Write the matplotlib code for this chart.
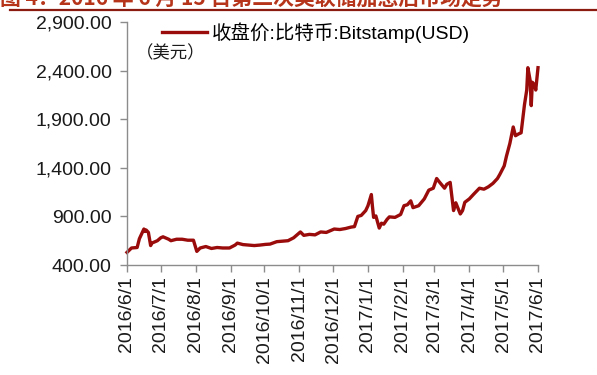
import numpy as np
import pandas as pd
import matplotlib
matplotlib.use('Agg')
import matplotlib.pyplot as plt
import matplotlib.dates as mdates
from matplotlib.ticker import FuncFormatter

plt.rcParams['font.family'] = ['Liberation Sans', 'Noto Sans CJK SC', 'DejaVu Sans']
plt.rcParams['axes.unicode_minus'] = False

# 收盘价:比特币:Bitstamp(USD)，按图读取的近似值
dates = [
    '2016-06-01', '2016-06-05', '2016-06-10', '2016-06-12', '2016-06-16', '2016-06-17',
    '2016-06-18', '2016-06-20', '2016-06-22', '2016-06-23', '2016-06-26', '2016-06-28',
    '2016-07-01', '2016-07-03', '2016-07-08', '2016-07-10', '2016-07-15', '2016-07-20',
    '2016-07-25', '2016-07-30', '2016-08-02', '2016-08-05', '2016-08-10', '2016-08-15',
    '2016-08-20', '2016-08-25', '2016-08-31', '2016-09-05', '2016-09-07', '2016-09-12',
    '2016-09-17', '2016-09-22', '2016-09-27', '2016-10-02', '2016-10-06', '2016-10-12',
    '2016-10-17', '2016-10-22', '2016-10-27', '2016-11-02', '2016-11-05', '2016-11-10',
    '2016-11-15', '2016-11-20', '2016-11-25', '2016-12-02', '2016-12-07', '2016-12-12',
    '2016-12-17', '2016-12-20', '2016-12-23', '2016-12-26', '2016-12-30', '2017-01-01',
    '2017-01-04', '2017-01-05', '2017-01-06', '2017-01-08', '2017-01-11', '2017-01-13',
    '2017-01-15', '2017-01-18', '2017-01-20', '2017-01-25', '2017-01-30', '2017-02-02',
    '2017-02-05', '2017-02-08', '2017-02-10', '2017-02-15', '2017-02-20', '2017-02-24',
    '2017-02-28', '2017-03-03', '2017-03-05', '2017-03-10', '2017-03-12', '2017-03-15',
    '2017-03-18', '2017-03-20', '2017-03-24', '2017-03-26', '2017-03-28', '2017-04-01',
    '2017-04-05', '2017-04-10', '2017-04-14', '2017-04-18', '2017-04-22', '2017-04-26',
    '2017-04-28', '2017-05-02', '2017-05-04', '2017-05-07', '2017-05-10', '2017-05-12',
    '2017-05-15', '2017-05-17', '2017-05-20', '2017-05-22', '2017-05-23', '2017-05-25',
    '2017-05-26', '2017-05-27', '2017-05-29', '2017-05-30', '2017-06-01',
]
close = [
    530, 575, 580, 670, 770, 745,
    760, 735, 600, 625, 640, 650,
    680, 690, 665, 650, 665, 665,
    655, 655, 540, 575, 590, 570,
    580, 575, 575, 605, 625, 610,
    605, 600, 605, 612, 615, 640,
    645, 650, 680, 740, 705, 715,
    710, 740, 735, 770, 765, 775,
    790, 795, 900, 910, 960, 1010,
    1125, 1000, 890, 905, 780, 830,
    820, 870, 895, 890, 920, 1010,
    1020, 1060, 990, 1010, 1080, 1170,
    1190, 1290, 1260, 1190, 1230, 1250,
    960, 1040, 925, 960, 1045, 1080,
    1130, 1190, 1180, 1205, 1240, 1290,
    1330, 1420, 1520, 1650, 1820, 1730,
    1750, 1760, 2050, 2200, 2430, 2300,
    2040, 2280, 2250, 2200, 2430,
]
ticks = pd.date_range('2016-06-01', '2017-06-01', freq='MS')
ytick_vals = [400, 900, 1400, 1900, 2400, 2900]

x = pd.to_datetime(dates)

fig = plt.figure(figsize=(5.97, 3.75), dpi=100)
ax = fig.add_axes([127 / 597, 1 - 265 / 375, 411 / 597, 243 / 375])

line_color = '#9A0B0B'
ax.plot(x, close, color=line_color, lw=2.4, solid_joinstyle='round', clip_on=False)

ax.set_xlim(pd.Timestamp('2016-06-01'), pd.Timestamp('2017-06-01'))
ax.set_ylim(400, 2900)
ax.set_yticks(ytick_vals)
ax.yaxis.set_major_formatter(FuncFormatter(lambda v, p: f'{v:,.2f}'))
ax.set_xticks(ticks)
ax.set_xticklabels([f'{d.year}/{d.month}/1' for d in ticks], rotation=90)

for s in ['top', 'right']:
    ax.spines[s].set_visible(False)
for s in ['left', 'bottom']:
    ax.spines[s].set_color('#8c8c8c')
    ax.spines[s].set_linewidth(1.0)
ax.tick_params(axis='both', colors='#8c8c8c', labelcolor='#1a1a1a', labelsize=14, length=5, width=1)
ax.tick_params(axis='x', pad=3)
ax.tick_params(axis='y', pad=6)

# 图例与单位
ax.legend(['收盘价:比特币:Bitstamp(USD)'], loc='center left', bbox_to_anchor=(0.085, 0.955),
          frameon=False, fontsize=14, handlelength=2.3, handletextpad=0.25,
          borderaxespad=0, borderpad=0)
fig.text(136 / 597, 1 - 53 / 375, '（美元）', fontsize=12.5, va='center', ha='left',
         family=['Noto Sans CJK SC', 'DejaVu Sans'], color='#1a1a1a')

# 顶部标题（被裁切）与红色分隔线
fig.text(0.0, 1 - 5 / 375, '图 4：2016 年 6 月 15 日第二次美联储加息后市场走势', fontsize=15,
         fontweight='bold', color='#B5341A', va='baseline', ha='left',
         family=['Noto Sans CJK SC', 'DejaVu Sans'])
fig.add_artist(plt.Line2D([10 / 597, 1.0], [1 - 10 / 375] * 2, transform=fig.transFigure,
                          color='#8B1A10', lw=1.6))

fig.savefig('out.png', dpi=100)
